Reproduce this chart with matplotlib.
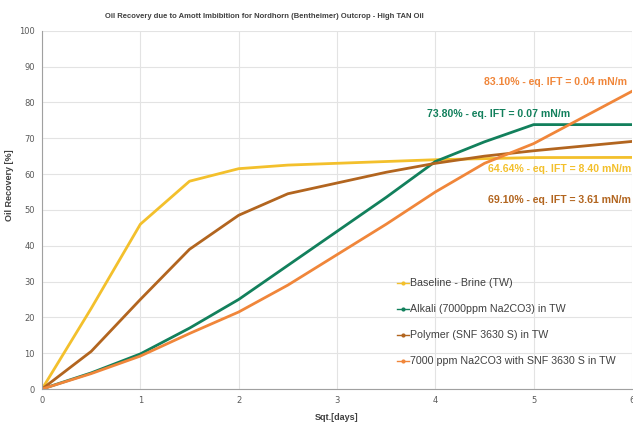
import matplotlib.pyplot as plt

days = [0, 0.5, 1, 1.5, 2, 2.5, 3, 3.5, 4, 4.5, 5, 6]
baseline = [0, 22.5, 46, 58, 61.5, 62.5, 63, 63.5, 64, 64.3, 64.6, 64.64]
alkali = [0, 4.5, 9.8, 17, 25, 34.5, 44, 53.5, 63.5, 69, 73.8, 73.8]
polymer = [0, 10.5, 25, 39, 48.5, 54.5, 57.5, 60.5, 63, 65, 66.5, 69.1]
combo = [0, 4.3, 9.2, 15.5, 21.5, 29, 37.5, 46, 55, 63, 68.5, 83.1]

names = ["Baseline - Brine (TW)", "Alkali (7000ppm Na2CO3) in TW",
         "Polymer (SNF 3630 S) in TW", "7000 ppm Na2CO3 with SNF 3630 S in TW"]
colors = ["#F3C02C", "#12805C", "#B2651F", "#F0863A"]
notes = ["64.64% - eq. IFT = 8.40 mN/m", "73.80% - eq. IFT = 0.07 mN/m",
         "69.10% - eq. IFT = 3.61 mN/m", "83.10% - eq. IFT = 0.04 mN/m"]
note_pos = [(5.99, 61.3), (5.37, 76.7), (5.99, 52.8), (5.95, 85.8)]

sans = ["Liberation Sans", "DejaVu Sans"]

fig = plt.figure(figsize=(6.33, 4.24), dpi=100)
ax = fig.add_axes([0.0664, 0.0825, 0.932, 0.845])

for ys, c, n in zip([baseline, alkali, polymer, combo], colors, names):
    ax.plot(days, ys, color=c, lw=2, label=n)

for (x, y), txt, c in zip(note_pos, notes, colors):
    ax.text(x, y, txt, color=c, fontsize=7.6, fontweight="bold", ha="right", va="center",
            family=sans)

ax.set_xlim(0, 6)
ax.set_ylim(0, 100)
ax.set_xticks(range(0, 7))
ax.set_yticks(range(0, 101, 10))
ax.grid(color="#e3e3e3", lw=0.8)
ax.set_axisbelow(True)
for s in ["top", "right"]:
    ax.spines[s].set_visible(False)
for s in ["left", "bottom"]:
    ax.spines[s].set_color("#a0a0a0")
ax.tick_params(labelsize=6, colors="#595959", length=0, pad=5)

fig.text(264 / 633, 1 - 17 / 424,
         "Oil Recovery due to Amott Imbibition for Nordhorn (Bentheimer) Outcrop - High TAN Oil",
         fontsize=5.5, fontweight="bold", color="#404040", ha="center", va="center", family=sans)
ax.set_xlabel("Sqt.[days]", fontsize=6.5, fontweight="bold", color="#404040", family=sans)
ax.xaxis.set_label_coords(0.5, -0.067)
ax.set_ylabel("Oil Recovery [%]", fontsize=6.5, fontweight="bold", color="#404040", family=sans)
ax.yaxis.set_label_coords(-0.048, 0.57)

leg = ax.legend(loc="lower left", bbox_to_anchor=(0.585, 0.036), frameon=False,
                prop={"family": sans, "size": 7.7}, handlelength=1.1, handletextpad=0.15,
                labelspacing=1.5, labelcolor="#404040")
for h in leg.legend_handles:
    h.set_linewidth(1)
    h.set_marker("o")
    h.set_markersize(2)

fig.savefig("out.png", dpi=100)
